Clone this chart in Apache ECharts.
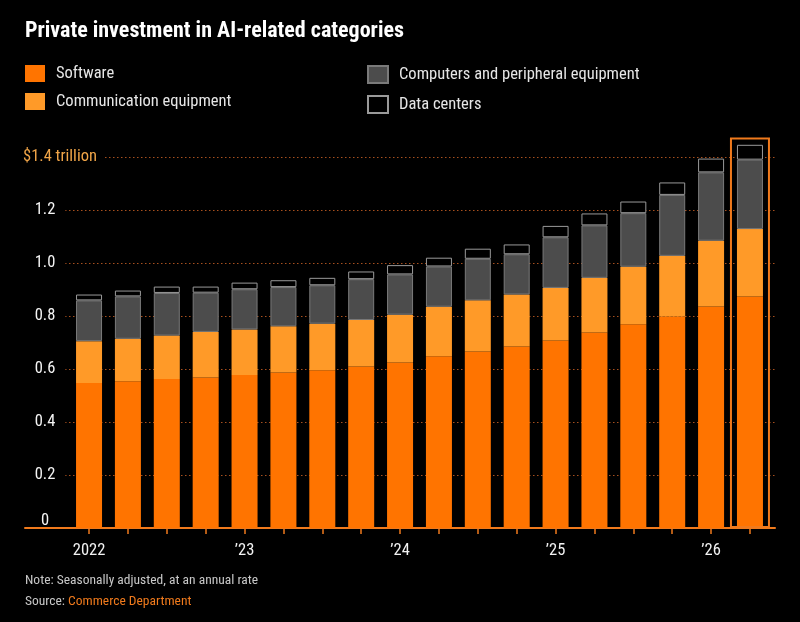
<!DOCTYPE html>
<html>
<head>
<meta charset="utf-8">
<script src="https://cdn.jsdelivr.net/npm/echarts@6/dist/echarts.min.js"></script>
<style>
html,body{margin:0;padding:0;background:#000;}
#chart{width:800px;height:622px;}
</style>
</head>
<body>
<div id="chart"></div>
<script>
const categories = ['2022 Q1','2022 Q2','2022 Q3','2022 Q4','2023 Q1','2023 Q2','2023 Q3','2023 Q4','2024 Q1','2024 Q2','2024 Q3','2024 Q4','2025 Q1','2025 Q2','2025 Q3','2025 Q4','2026 Q1','2026 Q2'];
const tickLabels = {'2022 Q1':'2022','2023 Q1':'\u201923','2024 Q1':'\u201924','2025 Q1':'\u201925','2026 Q1':'\u201926'};
const software = [0.547,0.554,0.562,0.568,0.577,0.587,0.595,0.609,0.625,0.648,0.666,0.685,0.708,0.738,0.769,0.798,0.836,0.874];
const communication = [0.158,0.160,0.164,0.172,0.172,0.174,0.176,0.176,0.180,0.187,0.193,0.196,0.198,0.206,0.217,0.229,0.248,0.254];
const computers = [0.154,0.160,0.161,0.148,0.152,0.148,0.145,0.154,0.152,0.152,0.157,0.152,0.191,0.198,0.202,0.230,0.258,0.262];
const dataCenters = [0.022,0.022,0.024,0.023,0.025,0.026,0.028,0.029,0.035,0.033,0.038,0.037,0.043,0.045,0.044,0.047,0.052,0.056];
const yTicks = [0, 0.2, 0.4, 0.6, 0.8, 1.0, 1.2, 1.4];
const highlightCategory = '2026 Q2';

const FONT = "'Roboto Condensed','DejaVu Sans Condensed',sans-serif";
const ORANGE = '#f07a1c';

const totals = categories.map((c, i) => software[i] + communication[i] + computers[i] + dataCenters[i]);
const highlightData = categories.map((c, i) => c === highlightCategory ? totals[i] + 0.028 : null);

const chart = echarts.init(document.getElementById('chart'), null, {renderer: 'canvas'});

const option = {
  backgroundColor: '#000',
  animation: false,
  textStyle: {fontFamily: FONT},
  title: [
    {text: 'Private investment in AI-related categories', left: 25, top: 20, padding: 0,
     textStyle: {color: '#fff', fontSize: 22, fontWeight: 'bold', fontFamily: FONT}},
    {text: '{a|Note: Seasonally adjusted, at an annual rate}\n{a|Source: }{b|Commerce Department}',
     left: 25, top: 570, padding: 0,
     textStyle: {fontFamily: FONT, fontWeight: 'normal', lineHeight: 21,
       rich: {a: {color: '#c8c8c8', fontSize: 13.5, fontFamily: FONT, fontWeight: 'normal', lineHeight: 21},
              b: {color: ORANGE, fontSize: 13.5, fontFamily: FONT, fontWeight: 'normal', lineHeight: 21}}}}
  ],
  legend: [
    {data: ['Software', 'Communication equipment'], orient: 'vertical', left: 25, top: 65, padding: 0,
     itemWidth: 20, itemHeight: 17, itemGap: 11, icon: 'rect',
     textStyle: {color: '#e6e6e6', fontSize: 16.5, fontFamily: FONT, padding: [0, 0, 0, 6]}},
    {data: ['Computers and peripheral equipment', 'Data centers'], orient: 'vertical', left: 367, top: 65, padding: 0,
     itemWidth: 20, itemHeight: 17, itemGap: 11, icon: 'rect',
     textStyle: {color: '#e6e6e6', fontSize: 16.5, fontFamily: FONT, padding: [0, 0, 0, 6]}}
  ],
  grid: [
    {left: 25, right: 25, top: 104, bottom: 94, containLabel: false, outerBoundsMode: 'none'},
    {left: 69.6, right: 30.6, top: 104, bottom: 94, containLabel: false, outerBoundsMode: 'none'}
  ],
  xAxis: [
    {type: 'value', gridIndex: 0, min: 0, max: 1, show: true,
     axisLine: {show: true, lineStyle: {color: ORANGE, width: 2}},
     axisTick: {show: false}, axisLabel: {show: false}, splitLine: {show: false}},
    {type: 'category', gridIndex: 1, data: categories,
     axisLine: {show: false},
     axisTick: {show: true, alignWithLabel: true, interval: 0, length: 6, lineStyle: {color: ORANGE, width: 1.5}},
     axisLabel: {interval: 3, color: '#f2f2f2', fontSize: 16.5, margin: 14, fontFamily: FONT,
       formatter: v => tickLabels[v] || ''},
     splitLine: {show: false}},
    {type: 'category', gridIndex: 1, data: categories, show: false}
  ],
  yAxis: [
    {type: 'value', gridIndex: 0, min: 0, max: 1.6, interval: 0.2,
     axisLine: {show: false}, axisTick: {show: false},
     splitLine: {show: true, showMinLine: false, showMaxLine: false,
       lineStyle: {color: '#a8501e', type: [1.5, 2.5], width: 1.2}},
     axisLabel: {inside: true, align: 'center', margin: 20, fontFamily: FONT, fontSize: 16.5, color: '#fff',
       showMaxLabel: false,
       formatter: function (v) {
         if (v > 1.5) return '';
         if (Math.abs(v) < 1e-9) return '{z|0}';
         if (Math.abs(v - yTicks[yTicks.length - 1]) < 1e-6) return '{t|$' + v.toFixed(1) + ' trillion}';
         return '{n|' + v.toFixed(1) + '}';
       },
       rich: {
         n: {color: '#f4f4f4', fontSize: 16.5, fontFamily: FONT, backgroundColor: '#000', padding: [3, 10, 3, 10]},
         t: {color: '#f0a548', fontSize: 16.5, fontFamily: FONT, backgroundColor: '#000', padding: [3, 7, 3, 37]},
         z: {color: '#f4f4f4', fontSize: 16.5, fontFamily: FONT, padding: [0, 0, 14, 0]}
       }}},
    {type: 'value', gridIndex: 1, min: 0, max: 1.6, show: false}
  ],
  series: [
    {name: 'Software', type: 'bar', stack: 'total', xAxisIndex: 1, yAxisIndex: 1, barWidth: 26,
     itemStyle: {color: '#ff7400'}, data: software, z: 3},
    {name: 'Communication equipment', type: 'bar', stack: 'total', xAxisIndex: 1, yAxisIndex: 1, barWidth: 26,
     itemStyle: {color: '#ff9a28'}, data: communication, z: 3},
    {name: 'Computers and peripheral equipment', type: 'bar', stack: 'total', xAxisIndex: 1, yAxisIndex: 1, barWidth: 26,
     itemStyle: {color: '#4c4c4c', borderColor: '#7a7a7a', borderWidth: 1}, data: computers, z: 3},
    {name: 'Data centers', type: 'bar', stack: 'total', xAxisIndex: 1, yAxisIndex: 1, barWidth: 26,
     itemStyle: {color: '#000', borderColor: '#9a9a9a', borderWidth: 1}, data: dataCenters, z: 3},
    {name: 'highlight', type: 'bar', xAxisIndex: 2, yAxisIndex: 1, barWidth: 40, silent: true,
     itemStyle: {color: 'rgba(0,0,0,0)', borderColor: ORANGE, borderWidth: 2}, data: highlightData, z: 4}
  ]
};
chart.setOption(option);
</script>
</body>
</html>
